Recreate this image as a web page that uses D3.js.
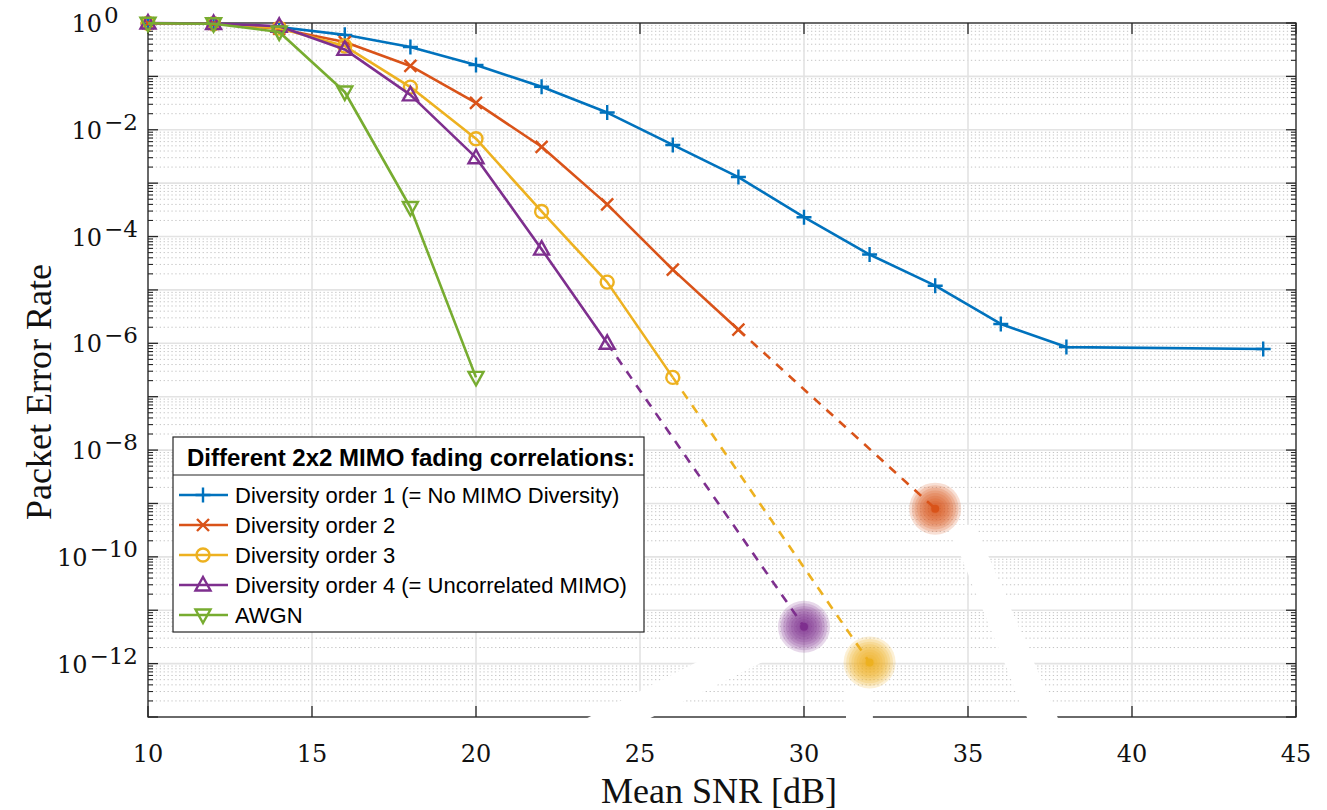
<!DOCTYPE html>
<html>
<head>
<meta charset="utf-8">
<script src="https://cdn.jsdelivr.net/npm/d3@7"></script>
<style>
  body { margin: 0; background: #fff; }
  svg { display: block; }
</style>
</head>
<body>
<svg id="drawing_region"></svg>
<script>
// ---- data ----
const snr_1 = [10, 12, 14, 16, 18, 20, 22, 24, 26, 28, 30, 32, 34, 36, 38, 44];
const per_1 = [0.98, 0.97, 0.84, 0.60, 0.356, 0.163, 0.064, 0.021, 5.2e-3, 1.3e-3, 2.3e-4, 4.6e-5, 1.2e-5, 2.3e-6, 8.5e-7, 7.8e-7];

const snr_2 = [10, 12, 14, 16, 18, 20, 22, 24, 26, 28];
const per_2 = [0.99, 0.97, 0.78, 0.44, 0.157, 0.032, 4.8e-3, 4.0e-4, 2.4e-5, 1.8e-6];

const snr_3 = [10, 12, 14, 16, 18, 20, 22, 24, 26];
const per_3 = [0.99, 0.97, 0.80, 0.37, 0.063, 6.8e-3, 2.95e-4, 1.4e-5, 2.3e-7];

const snr_4 = [10, 12, 14, 16, 18, 20, 22, 24];
const per_4 = [1.0, 0.98, 0.87, 0.32, 0.045, 3.0e-3, 5.8e-5, 1.0e-6];

const snr_awgn = [10, 12, 14, 16, 18, 20];
const per_awgn = [0.99, 0.97, 0.68, 0.051, 3.5e-4, 2.3e-7];

// dashed extrapolations, ending in a glowing dot
const ext_snr_2 = [28, 34];
const ext_per_2 = [1.8e-6, 8.0e-10];
const ext_snr_3 = [26, 32];
const ext_per_3 = [2.3e-7, 1.05e-12];
const ext_snr_4 = [24, 30];
const ext_per_4 = [1.0e-6, 4.9e-12];

const legend_title = 'Different 2x2 MIMO fading correlations:';
const legend_labels = [
    'Diversity order 1 (= No MIMO Diversity)',
    'Diversity order 2',
    'Diversity order 3',
    'Diversity order 4 (= Uncorrelated MIMO)',
    'AWGN'
];

const x_ticks = [10, 15, 20, 25, 30, 35, 40, 45];
const y_label_exps = [0, -2, -4, -6, -8, -10, -12];

// white patches that cover parts of the grid in the original (snr, log10 per)
const white_patches = [
    [[27.35, -11.78], [29.36, -11.78], [25.18, -13.06], [23.26, -13.06]],
    [[34.39, -9.40], [35.21, -9.40], [37.77, -13.06], [36.83, -13.06]],
    [[31.28, -12.45], [32.10, -12.45], [32.10, -13.07], [31.28, -13.07]]
];

// ---- layout ----
const config = {
    width: 1327,
    height: 810,
    margin: { top: 23, right: 31, bottom: 93, left: 148 }
};
const inner_width = config.width - config.margin.left - config.margin.right;
const inner_height = config.height - config.margin.top - config.margin.bottom;

const colors = ['#0072BD', '#D95319', '#EDB120', '#7E2F8E', '#77AC30'];
const markers = ['plus', 'cross', 'circle', 'up', 'down'];

const svg = d3.select('#drawing_region')
    .attr('width', config.width)
    .attr('height', config.height);

const chart = svg.append('g')
    .attr('transform', `translate(${config.margin.left}, ${config.margin.top})`);

const xscale = d3.scaleLinear().domain([10, 45]).range([0, inner_width]);
const yscale = d3.scaleLog().domain([1e-13, 1]).range([inner_height, 0]);

const decades = d3.range(0, -14, -1).map(e => Math.pow(10, e));
const minors = [];
for (let e = -13; e < 0; e++) {
    for (let m = 2; m <= 9; m++) minors.push(m * Math.pow(10, e));
}

// ---- grid ----
chart.append('g').selectAll('line')
    .data(minors)
    .join('line')
    .attr('x1', 0).attr('x2', inner_width)
    .attr('y1', d => yscale(d)).attr('y2', d => yscale(d))
    .attr('stroke', '#c4c4c4')
    .attr('stroke-width', 1)
    .attr('stroke-dasharray', '1.3,2.6');

chart.append('g').selectAll('line')
    .data(decades)
    .join('line')
    .attr('x1', 0).attr('x2', inner_width)
    .attr('y1', d => yscale(d)).attr('y2', d => yscale(d))
    .attr('stroke', '#e3e3e3')
    .attr('stroke-width', 1.6);

chart.append('g').selectAll('line')
    .data(x_ticks)
    .join('line')
    .attr('x1', d => xscale(d)).attr('x2', d => xscale(d))
    .attr('y1', 0).attr('y2', inner_height)
    .attr('stroke', '#e3e3e3')
    .attr('stroke-width', 1.6);

// ---- axes (box with inward ticks) ----
const axis_color = '#262626';
const ax = chart.append('g').attr('stroke', axis_color).attr('fill', 'none');
ax.append('rect')
    .attr('x', 0).attr('y', 0)
    .attr('width', inner_width).attr('height', inner_height)
    .attr('stroke-width', 1.3);

[0, inner_width].forEach((x0, i) => {
    const dir = i === 0 ? 1 : -1;
    ax.append('g').selectAll('line')
        .data(decades)
        .join('line')
        .attr('x1', x0).attr('x2', x0 + dir * 10)
        .attr('y1', d => yscale(d)).attr('y2', d => yscale(d))
        .attr('stroke-width', 1.3);
    ax.append('g').selectAll('line')
        .data(minors)
        .join('line')
        .attr('x1', x0).attr('x2', x0 + dir * 5)
        .attr('y1', d => yscale(d)).attr('y2', d => yscale(d))
        .attr('stroke-width', 1.1);
});
[0, inner_height].forEach((y0, i) => {
    const dir = i === 0 ? 1 : -1;
    ax.append('g').selectAll('line')
        .data(x_ticks)
        .join('line')
        .attr('x1', d => xscale(d)).attr('x2', d => xscale(d))
        .attr('y1', y0).attr('y2', y0 + dir * 11)
        .attr('stroke-width', 1.3);
});

// white patches over grid and axis line
const patch_line = d3.line().x(d => xscale(d[0])).y(d => yscale(Math.pow(10, d[1])));
chart.append('g').selectAll('path')
    .data(white_patches)
    .join('path')
    .attr('d', d => patch_line(d) + 'Z')
    .attr('fill', '#fff');

// ---- tick labels ----
const tick_font = '"DejaVu Serif", "Liberation Serif", serif';
chart.append('g').selectAll('text')
    .data(x_ticks)
    .join('text')
    .attr('x', d => xscale(d))
    .attr('y', inner_height + 45)
    .attr('text-anchor', 'middle')
    .attr('font-family', tick_font)
    .attr('font-size', 24)
    .attr('fill', '#111')
    .text(d => d);

const ylab = chart.append('g').selectAll('text')
    .data(y_label_exps)
    .join('text')
    .attr('x', -10)
    .attr('y', d => yscale(Math.pow(10, d)) + 9)
    .attr('text-anchor', 'end')
    .attr('font-family', tick_font)
    .attr('font-size', 24)
    .attr('fill', '#111');
ylab.append('tspan').text('10');
ylab.append('tspan')
    .attr('font-size', 23)
    .attr('dx', 2)
    .attr('dy', -9)
    .text(d => d === 0 ? '0' : '\u2212' + Math.abs(d));
// keep the "10" of 10^0 aligned with the others (invisible minus)
ylab.filter(d => d === 0).append('tspan')
    .attr('font-size', 23)
    .attr('fill', 'none')
    .text('\u2212');

// axis titles
svg.append('text')
    .attr('x', config.margin.left + inner_width / 2 - 3)
    .attr('y', 803)
    .attr('text-anchor', 'middle')
    .attr('font-family', '"Liberation Serif", "Times New Roman", serif')
    .attr('font-size', 36)
    .attr('fill', '#111')
    .text('Mean SNR [dB]');

svg.append('text')
    .attr('transform', `translate(51, ${config.margin.top + inner_height / 2 + 22}) rotate(-90)`)
    .attr('text-anchor', 'middle')
    .attr('font-family', '"Liberation Serif", "Times New Roman", serif')
    .attr('font-size', 36)
    .attr('fill', '#111')
    .text('Packet Error Rate');

// ---- markers ----
const marker_path = {
    plus:  'M-7.5,0H7.5M0,-7.5V7.5',
    cross: 'M-6,-6L6,6M-6,6L6,-6',
    up:    'M0,-8L7.5,5.5L-7.5,5.5Z',
    down:  'M0,8L7.5,-5.5L-7.5,-5.5Z'
};
function draw_marker(g, kind, color) {
    if (kind === 'circle') {
        g.append('circle').attr('r', 6.5)
            .attr('fill', 'none').attr('stroke', color).attr('stroke-width', 2.4);
    } else {
        g.append('path').attr('d', marker_path[kind])
            .attr('fill', 'none').attr('stroke', color).attr('stroke-width', 2.4)
            .attr('stroke-linejoin', 'miter');
    }
}

// ---- series ----
const series = [
    { snr: snr_1, per: per_1 },
    { snr: snr_2, per: per_2 },
    { snr: snr_3, per: per_3 },
    { snr: snr_4, per: per_4 },
    { snr: snr_awgn, per: per_awgn }
];
const extras = [
    { snr: ext_snr_2, per: ext_per_2, color: colors[1] },
    { snr: ext_snr_3, per: ext_per_3, color: colors[2] },
    { snr: ext_snr_4, per: ext_per_4, color: colors[3] }
];

const line = d3.line()
    .x(d => xscale(d[0]))
    .y(d => yscale(d[1]));

// dashed tails
chart.append('g').selectAll('path')
    .data(extras)
    .join('path')
    .attr('d', d => line(d3.zip(d.snr, d.per)))
    .attr('fill', 'none')
    .attr('stroke', d => d.color)
    .attr('stroke-width', 2.6)
    .attr('stroke-dasharray', '9,8');

// glowing end points: stacked translucent circles
const rings = d3.range(26, 2, -2.6);
extras.forEach(d => {
    const n = d.snr.length - 1;
    const g = chart.append('g')
        .attr('transform', `translate(${xscale(d.snr[n])}, ${yscale(d.per[n])})`);
    g.selectAll('circle')
        .data(rings)
        .join('circle')
        .attr('r', r => r)
        .attr('fill', d.color)
        .attr('fill-opacity', 0.19);
    g.append('circle').attr('r', 4).attr('fill', d.color);
});

series.forEach((s, i) => {
    const pts = d3.zip(s.snr, s.per);
    const g = chart.append('g');
    g.append('path')
        .attr('d', line(pts))
        .attr('fill', 'none')
        .attr('stroke', colors[i])
        .attr('stroke-width', 2.6)
        .attr('stroke-linejoin', 'round');
    g.selectAll('g.mk')
        .data(pts)
        .join('g')
        .attr('class', 'mk')
        .attr('transform', d => `translate(${xscale(d[0])}, ${yscale(d[1])})`)
        .each(function () { draw_marker(d3.select(this), markers[i], colors[i]); });
});

// ---- legend ----
const lg = svg.append('g').attr('transform', 'translate(173, 437)');
lg.append('rect')
    .attr('width', 471).attr('height', 195)
    .attr('fill', '#fff')
    .attr('stroke', axis_color)
    .attr('stroke-width', 1.2);
lg.append('line')
    .attr('x1', 0).attr('x2', 471)
    .attr('y1', 38).attr('y2', 38)
    .attr('stroke', axis_color)
    .attr('stroke-width', 1.2);
lg.append('text')
    .attr('x', 238).attr('y', 29)
    .attr('text-anchor', 'middle')
    .attr('font-family', '"Liberation Sans", Arial, sans-serif')
    .attr('font-weight', 'bold')
    .attr('font-size', 24)
    .attr('fill', '#000')
    .text(legend_title);

const entries = lg.selectAll('g.entry')
    .data(legend_labels)
    .join('g')
    .attr('class', 'entry')
    .attr('transform', (d, i) => `translate(0, ${58 + i * 30})`);
entries.append('line')
    .attr('x1', 6).attr('x2', 55)
    .attr('stroke', (d, i) => colors[i])
    .attr('stroke-width', 2.6);
entries.each(function (d, i) {
    const m = d3.select(this).append('g').attr('transform', 'translate(30, 0)');
    draw_marker(m, markers[i], colors[i]);
});
entries.append('text')
    .attr('x', 62).attr('y', 8)
    .attr('font-family', '"Liberation Sans", Arial, sans-serif')
    .attr('font-size', 22)
    .attr('fill', '#000')
    .text(d => d);
</script>
</body>
</html>
